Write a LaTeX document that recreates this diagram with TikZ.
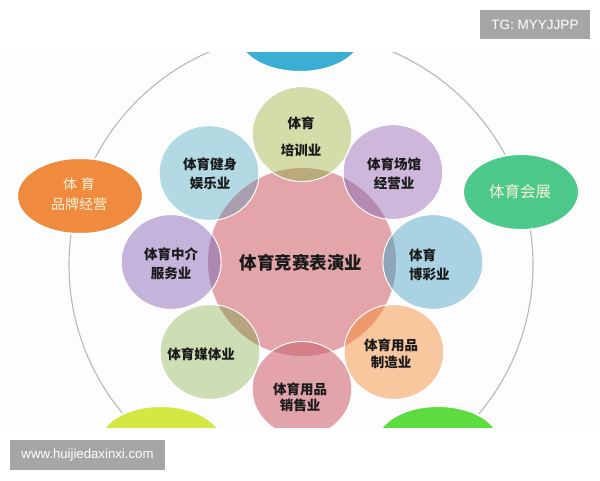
\documentclass[tikz,border=0pt]{standalone}
\usepackage{fontspec}
\setmainfont{Liberation Sans}
\newfontfamily\cjk{Noto Sans CJK SC}
\usetikzlibrary{shapes.geometric}
\definecolor{ringgray}{HTML}{B8B8B8}
\definecolor{topblue}{HTML}{3AAED3}
\definecolor{brandorange}{HTML}{EF8A3E}
\definecolor{expogreen}{HTML}{4CC98A}
\definecolor{blyellow}{HTML}{D3E842}
\definecolor{brgreen}{HTML}{5CDC3F}
\definecolor{corepink}{HTML}{E3A5AA}
\definecolor{cTrain}{HTML}{D4DDA9}
\definecolor{oTrain}{HTML}{BBAA7C}
\definecolor{cFit}{HTML}{B3D9E3}
\definecolor{oFit}{HTML}{A99DAE}
\definecolor{cVenue}{HTML}{CDB8DB}
\definecolor{oVenue}{HTML}{B48BAE}
\definecolor{cLottery}{HTML}{A9D2E2}
\definecolor{oLottery}{HTML}{8FA6B8}
\definecolor{cAgency}{HTML}{C4B3DA}
\definecolor{oAgency}{HTML}{AE88B0}
\definecolor{cMedia}{HTML}{CDDEB4}
\definecolor{oMedia}{HTML}{B5A47E}
\definecolor{cMake}{HTML}{F8C79E}
\definecolor{oMake}{HTML}{EC9A6E}
\definecolor{cSell}{HTML}{E3A3AA}
\definecolor{oSell}{HTML}{D57F8A}
\definecolor{textdark}{HTML}{1A1A1A}
\definecolor{creamtext}{HTML}{FDF3D6}
\definecolor{wmgray}{HTML}{A6A6A6}
\definecolor{photobg}{HTML}{FDFDFD}
\tikzset{
  ringline/.style={draw=ringgray, line width=1.1pt},
  outerell/.style={ellipse, minimum width=124pt, minimum height=74pt, draw=white, line width=2pt, inner sep=0pt},
  smallc/.style={ellipse, minimum width=100pt, minimum height=95pt, draw=white, line width=1pt, inner sep=0pt},
  corec/.style={circle, minimum size=188pt, fill=corepink, inner sep=0pt},
  lab/.style={font={\cjk\bfseries\fontsize{13.5}{19}\selectfont}, text=textdark, align=center, inner sep=0pt},
  elab/.style={font={\cjk\fontsize{14}{18}\selectfont}, text=creamtext, align=center, inner sep=0pt},
  wm/.style={fill=wmgray, text=white, inner sep=0pt}
}
\begin{document}
\begin{tikzpicture}[x=1pt,y=-1pt]
\useasboundingbox (0,0) rectangle (600,480);
\fill[white] (0,0) rectangle (600,480);
\begin{scope}
  \clip (0,52) rectangle (600,427);
  \fill[photobg] (0,52) rectangle (600,427);
  \coordinate (O) at (301,265);
  \draw[ringline] (O) circle (232pt);
  % outer ellipses
  \node[outerell, fill=topblue] (eTop) at (300,35) {};
  \node[outerell, fill=brandorange, minimum width=126pt, minimum height=76pt] (eBrand) at (80,196) {};
  \node[outerell, fill=expogreen, minimum width=116pt, minimum height=76pt] (eExpo) at (521,192) {};
  \node[outerell, fill=blyellow] (eBL) at (161,443) {};
  \node[outerell, fill=brgreen] (eBR) at (438,443) {};
  % core
  \node[corec] (core) at (302,262) {};
  % small circles
  \node[smallc, fill=cTrain] (sTrain) at (302,134) {};
  \node[smallc, fill=cVenue] (sVenue) at (393,172) {};
  \node[smallc, fill=cLottery] (sLottery) at (433,262) {};
  \node[smallc, fill=cMake] (sMake) at (394,352) {};
  \node[smallc, fill=cSell] (sSell) at (302,389) {};
  \node[smallc, fill=cMedia] (sMedia) at (210,352) {};
  \node[smallc, fill=cAgency] (sAgency) at (171,262) {};
  \node[smallc, fill=cFit] (sFit) at (209,173) {};
  % overlaps
  \begin{scope}
    \clip (core.center) circle (94pt);
    \fill[oTrain] (sTrain.center) ellipse (50pt and 47.5pt);
    \fill[oVenue] (sVenue.center) ellipse (50pt and 47.5pt);
    \fill[oLottery] (sLottery.center) ellipse (50pt and 47.5pt);
    \fill[oMake] (sMake.center) ellipse (50pt and 47.5pt);
    \fill[oSell] (sSell.center) ellipse (50pt and 47.5pt);
    \fill[oMedia] (sMedia.center) ellipse (50pt and 47.5pt);
    \fill[oAgency] (sAgency.center) ellipse (50pt and 47.5pt);
    \fill[oFit] (sFit.center) ellipse (50pt and 47.5pt);
  \end{scope}
  \foreach \n in {sTrain,sVenue,sLottery,sMake,sSell,sMedia,sAgency,sFit}
    \draw[white, line width=0.8pt] (\n.center) ellipse (50pt and 47.5pt);
  % labels
  \node[lab, font={\cjk\bfseries\fontsize{17.5}{20}\selectfont}] (tCore) at (301,263) {体育竞赛表演业};
  \node[lab] (tTrain) at (301,137) {体育\\[8pt]培训业};
  \node[lab] (tVenue) at (394,174) {体育场馆\\经营业};
  \node[lab, align=left, anchor=west] (tLottery) at (409,265) {体育\\博彩业};
  \node[lab, font={\cjk\bfseries\fontsize{13.5}{17}\selectfont}] (tMake) at (391,354) {体育用品\\制造业};
  \node[lab, font={\cjk\bfseries\fontsize{13.5}{16}\selectfont}] (tSell) at (300,397) {体育用品\\销售业};
  \node[lab] (tMedia) at (201,354) {体育媒体业};
  \node[lab] (tAgency) at (171,264) {体育中介\\服务业};
  \node[lab] (tFit) at (210,174) {体育健身\\娱乐业};
  \node[elab] (tBrand) at (79,194) {体\hspace{4pt}育\\[2pt]品牌经营};
  \node[elab, font={\cjk\fontsize{15.5}{18}\selectfont}] (tExpo) at (520,192) {体育会展};
\end{scope}
% watermarks
\node[wm, minimum width=110pt, minimum height=29pt, font=\fontsize{13.5}{16}\selectfont] (tg) at (535,24.5) {TG: MYYJJPP};
\node[wm, minimum width=155pt, minimum height=30pt, font=\fontsize{13.2}{16}\selectfont] (url) at (87.5,455) {www.huijiedaxinxi.com};
\end{tikzpicture}
\end{document}
